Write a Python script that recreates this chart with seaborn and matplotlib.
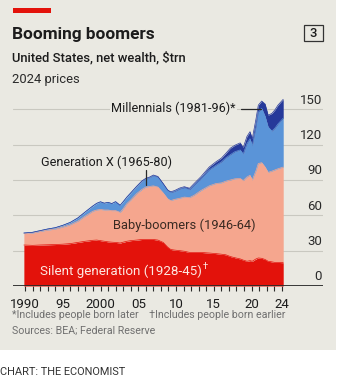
import matplotlib
matplotlib.use("Agg")
import matplotlib.pyplot as plt
from matplotlib.patches import Rectangle
from matplotlib.lines import Line2D
import numpy as np
import pandas as pd
import seaborn as sns

# US net wealth by generation, $trn, 2024 prices
years = [1989.85, 1991, 1992, 1993, 1994, 1995, 1996, 1997, 1998, 1999, 1999.5,
         2000, 2000.5, 2001, 2001.5, 2002, 2002.6, 2003, 2003.5, 2004, 2004.8,
         2005.5, 2006, 2006.5, 2007, 2007.6, 2008.3, 2008.9, 2009.3, 2009.8,
         2010.5, 2011.1, 2011.8, 2012.4, 2013.3, 2014.4, 2015.3, 2016.0, 2016.6,
         2017.2, 2017.8, 2018.5, 2018.9, 2019.4, 2019.8, 2020.1, 2020.6, 2020.9,
         2021.35, 2021.8, 2022.2, 2022.7, 2023.1, 2023.5, 2024.2]
silent = [34.8, 34.5, 34.8, 35.0, 35.2, 35.5, 36.0, 37.0, 38.0, 38.8, 39.0,
          38.5, 38.0, 37.5, 37.2, 37.0, 36.5, 37.2, 38.0, 38.5, 39.0,
          39.5, 39.5, 39.5, 39.5, 39.0, 37.0, 33.0, 31.0, 30.5,
          30.0, 29.5, 28.5, 28.5, 28.5, 28.0, 27.5, 27.0, 26.5,
          25.0, 24.0, 23.0, 22.0, 21.0, 21.5, 21.0, 23.0, 23.8,
          23.5, 22.5, 21.0, 20.5, 20.0, 20.0, 19.8]
boomers = [9.7, 10.5, 11.5, 12.5, 13.1, 14.5, 16.0, 18.0, 21.5, 24.7, 25.5,
           26.5, 26.5, 27.0, 26.8, 27.0, 26.0, 28.3, 32.0, 34.5, 39.5,
           42.5, 44.5, 45.0, 45.5, 45.0, 42.0, 41.0, 41.5, 43.0,
           44.5, 46.0, 46.5, 48.5, 52.5, 57.0, 59.5, 60.5, 62.5,
           65.0, 67.0, 68.3, 67.5, 71.5, 72.5, 69.0, 75.0, 80.2,
           81.2, 78.5, 75.5, 77.0, 78.5, 79.5, 81.2]
gen_x = [0.5, 0.6, 0.7, 0.9, 1.2, 1.5, 2.0, 2.8, 3.5, 4.5, 5.7,
         6.5, 5.8, 6.5, 6.0, 7.6, 6.0, 6.0, 5.5, 6.0, 6.0,
         7.0, 7.0, 7.5, 8.5, 8.2, 7.3, 6.8, 6.7, 6.7,
         7.8, 7.8, 6.8, 8.6, 10.0, 13.6, 15.5, 17.8, 19.8,
         21.5, 23.0, 24.2, 22.5, 28.5, 31.0, 29.0, 37.0, 43.5,
         46.1, 43.0, 38.5, 34.0, 35.5, 38.0, 41.5]
millennials = [0.0, 0.0, 0.0, 0.0, 0.0, 0.0, 0.0, 0.0, 0.0, 0.0, 0.0,
               0.0, 0.0, 0.0, 0.0, 0.0, 0.0, 0.0, 0.0, 0.0, 0.2,
               0.3, 0.4, 0.5, 0.7, 0.8, 0.7, 0.7, 0.8, 0.8,
               0.9, 1.0, 1.2, 1.4, 1.8, 2.4, 3.0, 3.2, 3.8,
               5.5, 5.5, 6.0, 5.5, 6.0, 6.0, 6.0, 7.0, 6.0,
               6.2, 10.5, 10.0, 15.0, 15.5, 16.0, 16.0]

generations = ["Silent generation", "Baby-boomers", "Generation X", "Millennials"]
layer_colors = ["#e3120b", "#f5a68e", "#5a94d8", "#26399a"]

y_ticks = [0, 30, 60, 90, 120, 150]
x_tick_years = list(range(1990, 2025))
x_tick_text = {1990: "1990", 1995: "95", 2000: "2000", 2005: "05",
               2010: "10", 2015: "15", 2020: "20", 2024: "24"}

W, H = 349, 382
BG = "#eae9e2"
GRID = "#c9c8c0"
INK = "#1c1c1c"
GREY = "#6f6f6f"

sns.set_theme(style="white")
plt.rcParams["font.family"] = ["Roboto", "DejaVu Sans"]

fig = plt.figure(figsize=(W / 100, H / 100), dpi=100, facecolor="white")


def fx(px):
    return px / W


def fy(py):
    return 1 - py / H


# panel background, red tag and chart number box
fig.patches.append(Rectangle((0, fy(350)), fx(336), 350 / H, transform=fig.transFigure,
                             facecolor=BG, edgecolor="none", zorder=-2))
fig.patches.append(Rectangle((fx(12.5), fy(13.3)), fx(38), 5 / H, transform=fig.transFigure,
                             facecolor="#e3120b", edgecolor="none", zorder=-1))
fig.patches.append(Rectangle((fx(303.5), fy(41)), fx(19.5), 16 / H, transform=fig.transFigure,
                             facecolor="none", edgecolor="#333333", lw=0.9, zorder=1))
fig.text(fx(313.3), fy(33.5), "3", ha="center", va="center", fontsize=9.4, color=INK,
         fontweight="medium")

fig.text(fx(12), fy(34), "Booming boomers", ha="left", va="center", fontsize=12.4,
         fontweight="bold", color=INK)
fig.text(fx(12), fy(58), "United States, net wealth, $trn", ha="left", va="center",
         fontsize=9.4, fontweight="medium", color=INK)
fig.text(fx(12), fy(79), "2024 prices", ha="left", va="center", fontsize=9.4, color="#2a2a2a")

fig.text(fx(12), fy(315.5), "*Includes people born later    \u2020Includes people born earlier",
         ha="left", va="center", fontsize=7.7, color=GREY)
fig.text(fx(12), fy(331), "Sources: BEA; Federal Reserve", ha="left", va="center",
         fontsize=7.7, color=GREY)
fig.text(fx(0.5), fy(372), "CHART: THE ECONOMIST", ha="left", va="center", fontsize=7.9,
         color="#333333")

# plotting area: 1990 sits at x=25px, 7.55px per year; 1.178px per $trn
x0, x1 = 1990 + (13 - 25) / 7.55, 1990 + (323 - 25) / 7.55
top_px = 95.2
ymax = (286 - top_px) / 1.178
ax = fig.add_axes([fx(13), fy(286), fx(323) - fx(13), (286 - top_px) / H])
ax.set_facecolor("none")
ax.set_xlim(x0, x1)
ax.set_ylim(0, ymax)
for s in ax.spines.values():
    s.set_visible(False)

for v in y_ticks[1:]:
    ax.axhline(v, color=GRID, lw=0.8, zorder=0)

layers = np.array([silent, boomers, gen_x, millennials])
tops = np.cumsum(layers, axis=0)
bottoms = np.vstack([np.zeros(len(years)), tops[:-1]])
for lo, hi, c in zip(bottoms, tops, layer_colors):
    ax.fill_between(years, lo, hi, color=c, lw=0, zorder=2)

edges = pd.DataFrame({
    "year": np.tile(years, len(generations)),
    "top": tops.ravel(),
    "generation": np.repeat(generations, len(years)),
})
sns.lineplot(data=edges, x="year", y="top", hue="generation", palette=layer_colors,
             hue_order=generations, lw=0.5, legend=False, ax=ax, zorder=3,
             estimator=None, sort=False)

ax.axhline(0, color="#2a2a2a", lw=1.3, zorder=5)

ax.set_xticks(x_tick_years)
ax.set_xticklabels([x_tick_text.get(y, "") for y in x_tick_years])
ax.tick_params(axis="x", bottom=True, direction="out", length=3.4, width=0.8,
               color="#2a2a2a", pad=5.0, labelsize=9.5, labelcolor=INK)
ax.set_yticks([])
ax.set_xlabel("")
ax.set_ylabel("")

ytrans = ax.get_yaxis_transform()
for v in y_ticks:
    ax.annotate(str(v), xy=(1, v), xycoords=ytrans, xytext=(-0.8, 1.8),
                textcoords="offset points", ha="right", va="bottom",
                fontsize=9.5, color="#2a2a2a")

# series labels
ax.text(2017.9, 151.2, "Millennials (1981-96)*", ha="right", va="center", fontsize=9.1,
        color=INK, zorder=6,
        bbox=dict(facecolor=BG, edgecolor="none", pad=1.2))
ax.add_line(Line2D([2018.6, 2021.3], [150.0, 150.0], color="#2a2a2a", lw=0.9, zorder=6))

ax.text(2000.8, 105.3, "Generation X (1965-80)", ha="center", va="center", fontsize=9.1,
        color=INK, zorder=6)
ax.add_line(Line2D([2006.0, 2006.0], [98.5, 86.0], color="#2a2a2a", lw=0.9, zorder=6))

ax.text(2011.1, 51.8, "Baby-boomers (1946-64)", ha="center", va="center", fontsize=9.3,
        color="#3a2a22", zorder=6)
silent_label = ax.text(1992.0, 12.7, "Silent generation (1928-45)", ha="left", va="center",
                       fontsize=9.6, color="#fde8e2", zorder=6)

# superscript dagger placed right after the silent-generation label
fig.canvas.draw()
bb = silent_label.get_window_extent()
fig.text((bb.x1 + 1.0) / fig.bbox.width, (bb.y1 - 2.5) / fig.bbox.height, "\u2020",
         ha="left", va="center", fontsize=6.8, color="#fde8e2", zorder=6)

fig.savefig("out.png", dpi=100, facecolor="white")
